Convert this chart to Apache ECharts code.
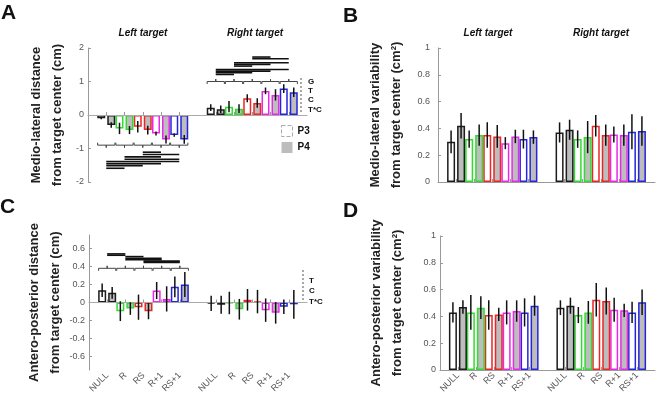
<!DOCTYPE html>
<html>
<head>
<meta charset="utf-8">
<script src="https://cdn.jsdelivr.net/npm/echarts@6/dist/echarts.min.js"></script>
<style>
html, body { margin: 0; padding: 0; background: #fff; }
#main { width: 657px; height: 408px; }
</style>
</head>
<body>
<div id="main"></div>
<script>
// conditions, shown twice (left target / right target)
var conds = ['NULL', 'R', 'RS', 'R+1', 'RS+1'];
var condColors = ['#1c1c1c', '#2fdc2f', '#ea2626', '#e62ae6', '#2626d8'];

// A - medio-lateral distance (cm)
var aLeftP3 = [-0.10, -0.40, -0.35, -0.55, -0.60];
var aLeftP4 = [-0.30, -0.45, -0.45, -0.73, -0.73];
var aLeftP3Err = [0.03, 0.17, 0.17, 0.06, 0.05];
var aLeftP4Err = [0.08, 0.12, 0.13, 0.12, 0.13];
var aRightP3 = [0.22, 0.25, 0.50, 0.72, 0.79];
var aRightP4 = [0.17, 0.19, 0.36, 0.60, 0.68];
var aRightP3Err = [0.10, 0.17, 0.12, 0.10, 0.13];
var aRightP4Err = [0.11, 0.13, 0.14, 0.17, 0.14];

// B - medio-lateral variability (cm2)
var bLeftP3 = [0.30, 0.32, 0.35, 0.29, 0.32];
var bLeftP4 = [0.42, 0.35, 0.34, 0.34, 0.335];
var bLeftP3Err = [0.085, 0.065, 0.095, 0.045, 0.07];
var bLeftP4Err = [0.095, 0.08, 0.085, 0.05, 0.05];
var bRightP3 = [0.37, 0.32, 0.42, 0.355, 0.375];
var bRightP4 = [0.39, 0.335, 0.35, 0.35, 0.38];
var bRightP3Err = [0.075, 0.065, 0.08, 0.06, 0.13];
var bRightP4Err = [0.075, 0.12, 0.08, 0.08, 0.11];

// C - antero-posterior distance (cm)
var cLeftP3 = [0.137, -0.096, -0.052, 0.133, 0.174];
var cLeftP4 = [0.107, -0.067, -0.096, 0.04, 0.20];
var cLeftP3Err = [0.075, 0.11, 0.14, 0.095, 0.115];
var cLeftP4Err = [0.065, 0.07, 0.09, 0.14, 0.14];
var cRightP3 = [-0.01, -0.005, 0.03, -0.085, -0.048];
var cRightP4 = [-0.025, -0.075, 0.01, -0.115, -0.02];
var cRightP3Err = [0.085, 0.125, 0.12, 0.13, 0.08];
var cRightP4Err = [0.10, 0.115, 0.13, 0.12, 0.16];

// D - antero-posterior variability (cm2)
var dLeftP3 = [0.43, 0.43, 0.41, 0.43, 0.43];
var dLeftP4 = [0.47, 0.465, 0.415, 0.44, 0.48];
var dLeftP3Err = [0.075, 0.13, 0.11, 0.09, 0.105];
var dLeftP4Err = [0.05, 0.085, 0.05, 0.08, 0.075];
var dRightP3 = [0.465, 0.41, 0.525, 0.45, 0.43];
var dRightP4 = [0.48, 0.43, 0.515, 0.445, 0.505];
var dRightP3Err = [0.055, 0.06, 0.125, 0.09, 0.08];
var dRightP4Err = [0.06, 0.085, 0.10, 0.05, 0.095];

// significance lines [from slot, to slot, y]
var aSigLeft = [[3, 4, -1.11], [3, 5, -1.18], [2, 4, -1.25], [2, 5, -1.32], [1, 5, -1.39], [1, 4, -1.45], [1, 3, -1.51], [1, 2, -1.59]];
var aSigRight = [[9, 10, 1.73], [9, 11, 1.68], [8, 11, 1.56], [8, 10, 1.51], [8, 9, 1.46], [7, 11, 1.36], [7, 10, 1.31], [7, 9, 1.26], [7, 8, 1.21]];
var cSigLeft = [[1, 2, 0.54], [1, 2, 0.525], [2, 3, 0.51], [2, 4, 0.49], [2, 4, 0.475], [3, 5, 0.46], [3, 5, 0.445]];
var aBraceLeftY = -0.9, aBraceRightY = 1.0, cBraceLeftY = 0.38;

var yTicksA = [-2, -1, 0, 1, 2];
var yTicksC = [-0.6, -0.4, -0.2, 0, 0.2, 0.4, 0.6];

// slots: blank, 5 left, blank, 5 right, blank
var xCats = [''].concat(conds, [''], conds, ['']);
var leftSlots = [1, 2, 3, 4, 5], rightSlots = [7, 8, 9, 10, 11];

function barData(left, right) {
  var out = xCats.map(function () { return '-'; });
  left.forEach(function (v, i) { out[leftSlots[i]] = { value: v, itemStyle: { borderColor: condColors[i] } }; });
  right.forEach(function (v, i) { out[rightSlots[i]] = { value: v, itemStyle: { borderColor: condColors[i] } }; });
  return out;
}
function errData(left, right, le, re) {
  var out = [];
  left.forEach(function (v, i) { out.push([leftSlots[i], v, le[i]]); });
  right.forEach(function (v, i) { out.push([rightSlots[i], v, re[i]]); });
  return out;
}
function errItem(offset) {
  return function (params, api) {
    var a = api.coord([api.value(0), api.value(1) - api.value(2)]);
    var b = api.coord([api.value(0), api.value(1) + api.value(2)]);
    return { type: 'line', shape: { x1: a[0] + offset, y1: a[1], x2: b[0] + offset, y2: b[1] },
      style: { stroke: '#111', lineWidth: 1.5 } };
  };
}
function sigItem(params, api) {
  var a = api.coord([api.value(0), api.value(2)]);
  var b = api.coord([api.value(1), api.value(2)]);
  return { type: 'line', shape: { x1: a[0], y1: a[1], x2: b[0], y2: b[1] },
    style: { stroke: '#111', lineWidth: 1.6 } };
}
function braceItem(dir) {
  return function (params, api) {
    var c = api.coord([api.value(0), api.value(1)]);
    var h = api.size([1, 0])[0] / 2 - 0.5;
    var e = 2.5 * dir;
    return { type: 'polyline', shape: { points: [[c[0] - h, c[1] + e], [c[0] - h, c[1]], [c[0], c[1]], [c[0], c[1] - e],
      [c[0], c[1]], [c[0] + h, c[1]], [c[0] + h, c[1] + e]] },
      style: { stroke: '#444', lineWidth: 1, fill: null } };
  };
}
function braceData(slots, y) {
  return slots.map(function (s) { return [s, y]; });
}

var font = 'Liberation Sans, Arial, sans-serif';
var grids = [
  { left: 88, top: 48, width: 219, height: 134 },
  { left: 438, top: 48, width: 217, height: 134 },
  { left: 89, top: 235, width: 218, height: 135 },
  { left: 440, top: 236, width: 215, height: 134 }
];

function xAxisFor(k, labels) {
  return {
    type: 'category', gridIndex: k, data: xCats, boundaryGap: false,
    axisLine: { lineStyle: { color: '#999' } },
    axisTick: { inside: true, length: 3, lineStyle: { color: '#999' },
      interval: function (i, v) { return v !== ''; } },
    axisLabel: { show: labels, rotate: 45, fontSize: 9, color: '#555', margin: 4, fontFamily: font,
      interval: function (i, v) { return v !== ''; } },
    splitLine: { show: false }
  };
}
function yAxisFor(k, opt) {
  var ax = {
    type: 'value', gridIndex: k,
    nameLocation: 'middle', nameRotate: 90,
    nameTextStyle: { fontSize: 13, fontWeight: 'bold', color: '#222', lineHeight: 21, fontFamily: font },
    axisLine: { show: true, lineStyle: { color: '#999' } },
    axisTick: { show: true, inside: true, length: 3, lineStyle: { color: '#999' } },
    axisLabel: { fontSize: 9, color: '#555', margin: 4, fontFamily: font },
    splitLine: { show: false }
  };
  for (var key in opt) ax[key] = opt[key];
  return ax;
}

var zeroLine = { silent: true, symbol: 'none', label: { show: false },
  lineStyle: { color: '#aaa', width: 1, type: 'solid' }, data: [{ yAxis: 0 }] };

function panelSeries(k, lp3, lp4, rp3, rp4, lp3e, lp4e, rp3e, rp4e, withZero) {
  var p3 = { name: 'P3', type: 'bar', xAxisIndex: k, yAxisIndex: k, barWidth: 8, barGap: '25%',
    itemStyle: { color: '#fff', borderWidth: 1.5 }, data: barData(lp3, rp3) };
  if (withZero) p3.markLine = zeroLine;
  var p4 = { name: 'P4', type: 'bar', xAxisIndex: k, yAxisIndex: k, barWidth: 8, barGap: '25%',
    itemStyle: { color: '#bdbdbd', borderWidth: 1.5 }, data: barData(lp4, rp4) };
  return [p3, p4,
    { type: 'custom', xAxisIndex: k, yAxisIndex: k, renderItem: errItem(-5), encode: { x: 0, y: 1 },
      data: errData(lp3, rp3, lp3e, rp3e), z: 5 },
    { type: 'custom', xAxisIndex: k, yAxisIndex: k, renderItem: errItem(5), encode: { x: 0, y: 1 },
      data: errData(lp4, rp4, lp4e, rp4e), z: 5 }];
}
function sigSeries(k, lines) {
  return { type: 'custom', xAxisIndex: k, yAxisIndex: k, renderItem: sigItem,
    encode: { x: [0, 1], y: 2 }, data: lines, z: 5 };
}
function braceSeries(k, slots, y, dir) {
  return { type: 'custom', xAxisIndex: k, yAxisIndex: k, renderItem: braceItem(dir),
    encode: { x: 0, y: 1 }, data: braceData(slots, y), z: 5 };
}

var series = []
  .concat(panelSeries(0, aLeftP3, aLeftP4, aRightP3, aRightP4, aLeftP3Err, aLeftP4Err, aRightP3Err, aRightP4Err, true))
  .concat(panelSeries(1, bLeftP3, bLeftP4, bRightP3, bRightP4, bLeftP3Err, bLeftP4Err, bRightP3Err, bRightP4Err, false))
  .concat(panelSeries(2, cLeftP3, cLeftP4, cRightP3, cRightP4, cLeftP3Err, cLeftP4Err, cRightP3Err, cRightP4Err, true))
  .concat(panelSeries(3, dLeftP3, dLeftP4, dRightP3, dRightP4, dLeftP3Err, dLeftP4Err, dRightP3Err, dRightP4Err, false))
  .concat([
    sigSeries(0, aSigLeft), sigSeries(0, aSigRight), sigSeries(2, cSigLeft),
    braceSeries(0, leftSlots, aBraceLeftY, -1),
    braceSeries(0, rightSlots, aBraceRightY, 1),
    braceSeries(2, leftSlots, cBraceLeftY, 1)
  ]);

function txt(x, y, s, f, align) {
  return { type: 'text', x: x, y: y, silent: true,
    style: { text: s, font: f, fill: '#111', textAlign: align || 'left', textVerticalAlign: 'middle',
      align: align || 'left', verticalAlign: 'middle' } };
}
var letterFont = 'bold 21px ' + font;
var titleFont = 'italic bold 10px ' + font;
var smallFont = 'bold 8px ' + font;

var chart = echarts.init(document.getElementById('main'), null, { renderer: 'canvas' });
chart.setOption({
  animation: false,
  backgroundColor: '#fff',
  grid: grids,
  legend: {
    left: 281, top: 125, orient: 'vertical', padding: 0, itemWidth: 11, itemHeight: 11, itemGap: 5,
    selectedMode: false,
    textStyle: { fontSize: 10, fontWeight: 'bold', color: '#111', fontFamily: font },
    data: [
      { name: 'P3', icon: 'rect', itemStyle: { color: '#fff', borderColor: '#aaa', borderType: 'dashed', borderWidth: 1 } },
      { name: 'P4', icon: 'rect', itemStyle: { color: '#bdbdbd', borderWidth: 0 } }
    ]
  },
  xAxis: [xAxisFor(0, false), xAxisFor(1, false), xAxisFor(2, true), xAxisFor(3, true)],
  yAxis: [
    yAxisFor(0, { min: -2, max: 2, interval: 1, name: 'Medio-lateral distance\nfrom target center (cm)', nameGap: 20,
      axisLabel: { fontSize: 9, color: '#555', margin: 4, fontFamily: font, customValues: yTicksA } }),
    yAxisFor(1, { min: 0, max: 1, interval: 0.2, name: 'Medio-lateral variability\nfrom target center (cm²)', nameGap: 31,
      axisLabel: { fontSize: 9, color: '#555', margin: 8, fontFamily: font } }),
    yAxisFor(2, { min: -0.75, max: 0.75, name: 'Antero-posterior distance\nfrom target center (cm)', nameGap: 23,
      axisLabel: { fontSize: 9, color: '#555', margin: 4, fontFamily: font, customValues: yTicksC },
      axisTick: { show: true, inside: true, length: 3, lineStyle: { color: '#999' }, customValues: yTicksC } }),
    yAxisFor(3, { min: 0, max: 1, interval: 0.2, name: 'Antero-posterior variability\nfrom target center (cm²)', nameGap: 32 })
  ],
  series: series,
  graphic: [
    txt(1, 13, 'A', letterFont), txt(343, 16, 'B', letterFont),
    txt(0, 207, 'C', letterFont), txt(343, 211, 'D', letterFont),
    txt(143, 33, 'Left target', titleFont, 'center'), txt(255, 33, 'Right target', titleFont, 'center'),
    txt(488, 33, 'Left target', titleFont, 'center'), txt(601, 33, 'Right target', titleFont, 'center'),
    { type: 'line', silent: true, shape: { x1: 301, y1: 78, x2: 301, y2: 113 },
      style: { stroke: '#555', lineWidth: 1, lineDash: [2, 2] } },
    txt(308, 82, 'G', smallFont), txt(308, 91, 'T', smallFont), txt(308, 100, 'C', smallFont), txt(308, 110, 'T*C', smallFont),
    { type: 'line', silent: true, shape: { x1: 303, y1: 270, x2: 303, y2: 301 },
      style: { stroke: '#555', lineWidth: 1, lineDash: [2, 2] } },
    txt(309, 281, 'T', smallFont), txt(309, 291, 'C', smallFont), txt(309, 302, 'T*C', smallFont)
  ]
});
window.onresize = chart.resize;
</script>
</body>
</html>
